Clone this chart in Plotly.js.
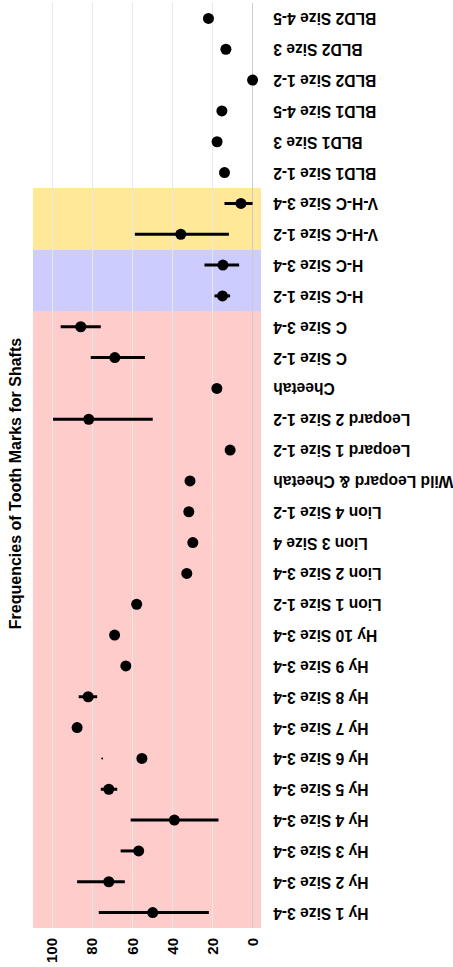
<!DOCTYPE html>
<html>
<head>
<meta charset="utf-8">
<script src="https://cdn.plot.ly/plotly-3.0.1.min.js"></script>
<style>
  html, body { margin: 0; padding: 0; overflow: hidden; background: #fff; }
  #wrap { position: absolute; left: 0; top: 0; width: 967px; height: 453px;
          transform-origin: 0 0; transform: translateY(967px) rotate(-90deg); }
  #chart { width: 967px; height: 453px; }
</style>
</head>
<body>
<div id="wrap"><div id="chart"></div></div>
<script>
const categories = [
  "Hy 1 Size 3-4", "Hy 2 Size 3-4", "Hy 3 Size 3-4", "Hy 4 Size 3-4", "Hy 5 Size 3-4",
  "Hy 6 Size 3-4", "Hy 7 Size 3-4", "Hy 8 Size 3-4", "Hy 9 Size 3-4", "Hy 10 Size 3-4",
  "Lion 1 Size 1-2", "Lion 2 Size 3-4", "Lion 3 Size 4", "Lion 4 Size 1-2",
  "Wild Leopard & Cheetah", "Leopard 1 Size 1-2", "Leopard 2 Size 1-2", "Cheetah",
  "C Size 1-2", "C Size 3-4", "H-C Size 1-2", "H-C Size 3-4", "V-H-C Size 1-2", "V-H-C Size 3-4",
  "BLD1 Size 1-2", "BLD1 Size 3", "BLD1 Size 4-5", "BLD2 Size 1-2", "BLD2 Size 3", "BLD2 Size 4-5"
];
const frequencies = [
  49.8, 71.7, 56.8, 39.0, 71.7,
  55.2, 87.5, 82.0, 63.2, 68.8,
  57.8, 32.8, 29.8, 31.8,
  31.2, 11.2, 81.7, 17.8,
  68.7, 85.7, 15.0, 14.8, 35.8, 5.8,
  14.0, 17.7, 15.3, 0.0, 13.3, 22.0
];
const errorPlus = [
  26.9, 15.8, 9.0, 21.8, 4.0,
  0, 0, 4.7, 0, 0,
  0, 0, 0, 0,
  0, 0, 17.8, 0,
  12.0, 10.0, 4.0, 9.2, 22.9, 8.2,
  0, 0, 0, 0, 0, 0
];
const errorMinus = [
  28.0, 8.0, 2.0, 22.0, 4.2,
  0, 0, 4.5, 0, 0,
  0, 0, 0, 0,
  0, 0, 31.9, 0,
  15.0, 10.0, 3.8, 8.1, 24.0, 5.8,
  0, 0, 0, 0, 0, 0
];
// small stray point visible in the reference
const extraCategories = ["Hy 6 Size 3-4"];
const extraValues = [75.0];

const valueTicks = [0, 20, 40, 60, 80, 100];

// shaded groups
const groupStart = ["Hy 1 Size 3-4", "H-C Size 1-2", "V-H-C Size 1-2"];
const groupEnd   = ["C Size 3-4", "H-C Size 3-4", "V-H-C Size 3-4"];
const groupColor = ["rgba(255,0,0,0.2)", "rgba(0,0,255,0.2)", "rgba(255,200,0,0.4)"];

const FONT = "Arial, 'Liberation Sans', sans-serif";

const shapes = groupStart.map((s, i) => ({
  type: "rect", xref: "x", yref: "paper",
  x0: categories.indexOf(s) - 0.5, x1: categories.indexOf(groupEnd[i]) + 0.5,
  y0: 0, y1: 1, fillcolor: groupColor[i], line: { width: 0 }, layer: "between"
}));

const traces = [
  {
    type: "scatter", mode: "markers", x: categories, y: frequencies,
    marker: { color: "#000", size: 11 },
    error_y: { type: "data", symmetric: false, array: errorPlus, arrayminus: errorMinus,
               color: "#000", thickness: 3, width: 0 },
    showlegend: false, cliponaxis: false
  },
  {
    type: "scatter", mode: "markers", x: extraCategories, y: extraValues,
    marker: { color: "#000", size: 2 }, showlegend: false
  }
];

const layout = {
  width: 967, height: 453,
  margin: { l: 39, r: 3, t: 33, b: 192 },
  paper_bgcolor: "#fff", plot_bgcolor: "#fff",
  title: { text: "Frequencies of Tooth Marks for Shafts",
           font: { family: FONT, size: 16, color: "#000", weight: "bold" },
           xref: "container", x: 0.5, xanchor: "center",
           yref: "container", y: 1 - 15 / 453, yanchor: "middle" },
  xaxis: {
    type: "category", categoryorder: "array", categoryarray: categories,
    range: [-0.5, categories.length - 0.5],
    tickangle: -90, showgrid: false, zeroline: false, showline: false,
    ticks: "outside", ticklen: 5, tickcolor: "rgba(0,0,0,0)",
    tickfont: { family: FONT, size: 15.6, color: "#000", weight: "bold" }
  },
  yaxis: {
    range: [-4.2, 109.5], tickvals: valueTicks,
    showgrid: true, gridcolor: "#e8e8e8", gridwidth: 1,
    zeroline: true, zerolinecolor: "#cccccc", zerolinewidth: 1, showline: false,
    ticks: "outside", ticklen: 6, tickcolor: "rgba(0,0,0,0)",
    tickfont: { family: FONT, size: 15, color: "#000", weight: "bold" }
  },
  shapes: shapes
};

Plotly.newPlot("chart", traces, layout, { staticPlot: true, responsive: false });
</script>
</body>
</html>
